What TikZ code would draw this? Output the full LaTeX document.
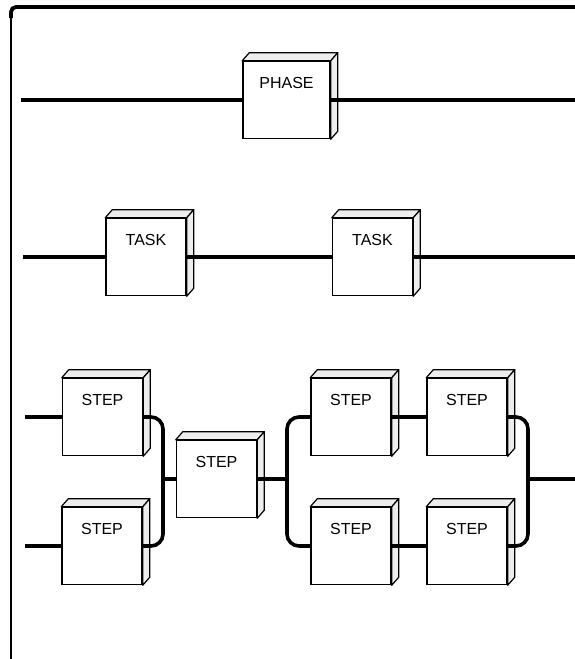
\documentclass[tikz,border=0pt]{standalone}
\usepackage{fontspec}
\setmainfont{Liberation Sans}
\usepackage{tikz}

\begin{document}
\begin{tikzpicture}[x=1pt, y=-1pt,
    every node/.style={font=\fontsize{16}{19}\selectfont},
    block/.style={draw, rectangle, fill=white, line width=1.5pt, minimum width=80pt,
        inner xsep=0pt, inner ysep=0pt, text height=27pt, text depth=50pt},
    face/.style={fill=gray!14, draw, line width=1.2pt, line join=round},
    wire/.style={line width=3.6pt, rounded corners=12pt}]
    \useasboundingbox (0,0) rectangle (575,659);

    % Frame
    \draw[line width=1.3pt] (11,659) -- (11,14);
    \draw[line width=3.8pt, rounded corners=5pt] (11,18) |- (575,7);

    % Phase
    \node[block, minimum width=87pt] (phase) at (286.5,100) {PHASE};

    % Tasks
    \node[block] (taskL) at (146,257) {TASK};
    \node[block] (taskR) at (372.5,257) {TASK};

    % Steps
    \node[block] (s1) at (102.5,417) {STEP};
    \node[block] (s2) at (102,546) {STEP};
    \node[block] (s3) at (216.5,479) {STEP};
    \node[block] (s4) at (351,417) {STEP};
    \node[block] (s5) at (467,417) {STEP};
    \node[block] (s6) at (351,546) {STEP};
    \node[block] (s7) at (467,546) {STEP};

    % Top and side faces
    \foreach \n in {phase,taskL,taskR,s1,s2,s3,s4,s5,s6,s7} {
        \draw[face] (\n.north west) -- ++(7,-8) -- ([shift={(7,-8)}]\n.north east) -- (\n.north east) -- cycle;
        \draw[face] (\n.north east) -- ++(7,-8) -- ([shift={(7,-8)}]\n.south east) -- (\n.south east) -- cycle;
    }

    % Line ends and joints
    \coordinate (p0) at (21,100);
    \coordinate (p1) at (575,100);
    \coordinate (t0) at (23,257);
    \coordinate (t1) at (575,257);
    \coordinate (a0) at (25,417);
    \coordinate (b0) at (25,546);
    \coordinate (j1) at (163,479);
    \coordinate (j2) at (287,479);
    \coordinate (j3) at (528,479);
    \coordinate (out) at (575,479);

    % Phase line
    \draw[wire] (p0) -- (phase.west);
    \draw[wire] (phase.east) -- (p1);

    % Task line
    \draw[wire] (t0) -- (taskL.west);
    \draw[wire] (taskL.east) -- (taskR.west);
    \draw[wire] (taskR.east) -- (t1);

    % Step network
    \draw[wire] (a0) -- (s1.west);
    \draw[wire] (b0) -- (s2.west);
    \draw[wire] (s1.east) -| (j1) |- (s2.east);
    \draw[wire] (j1) -- (s3.west);
    \draw[wire] (s3.east) -- (j2);
    \draw[wire] (s4.west) -| (j2) |- (s6.west);
    \draw[wire] (s4.east) -- (s5.west);
    \draw[wire] (s6.east) -- (s7.west);
    \draw[wire] (s5.east) -| (j3) |- (s7.east);
    \draw[wire] (j3) -- (out);
\end{tikzpicture}
\end{document}
